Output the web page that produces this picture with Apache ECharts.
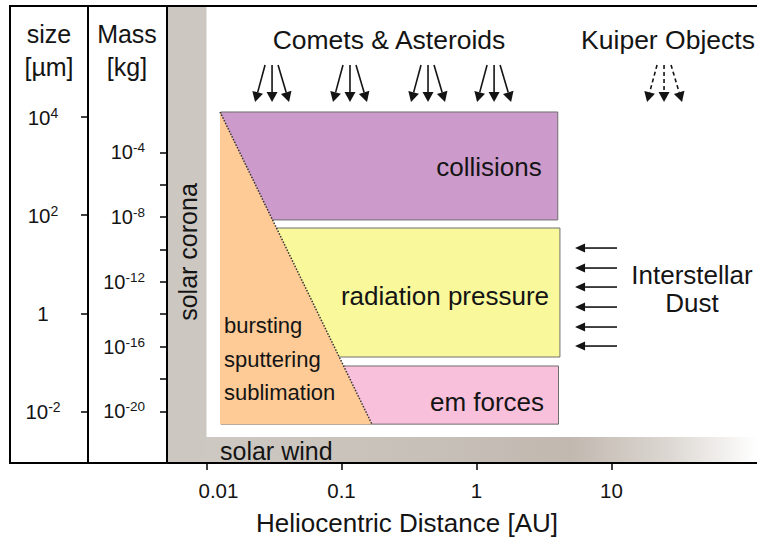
<!DOCTYPE html>
<html><head><meta charset="utf-8">
<script src="https://cdn.jsdelivr.net/npm/echarts@6/dist/echarts.min.js"></script>
<style>html,body{margin:0;padding:0;background:#fff}#c{width:757px;height:537px}</style>
</head><body><div id="c"></div>
<script>
// ---- axis ranges and ticks ----
const distRangeAU = [0.0051, 119.6];
const sizeRangeUm = [8.87e-4, 1.84e6];
const massRangeKg = [6.46e-24, 1.084e5];
const distTicksAU = [0.01, 0.1, 1, 10];
const distTickLabels = ['{o|0.01}', '0.1', '1', '10'];
const sizeTicksUm = [0.01, 1, 100, 10000];
const sizeTickLabels = ['10{s|-2}', '1', '10{s|2}', '10{s|4}'];
const massTicksKg = [1e-20, 1e-18, 1e-16, 1e-14, 1e-12, 1e-10, 1e-8, 1e-6, 1e-4];
const massLabelTicksKg = [1e-20, 1e-16, 1e-12, 1e-8, 1e-4];
const massTickLabels = ['10{s|-20}', '10{s|-16}', '10{s|-12}', '10{s|-8}', '10{s|-4}'];

// ---- process regions (distance in AU, size in µm) ----
const regionLabels = ['collisions', 'radiation pressure', 'em forces'];
const regionInnerAU = [0.0128, 0.0128, 0.0128];
const regionOuterAU = [4.0, 4.15, 4.05];
const regionMinSizeUm = [80, 0.1285, 0.0055];
const regionMaxSizeUm = [12700, 54.8, 0.0843];
const sublimationAU = [0.0126, 0.168];
const sublimationSizeUm = [0.0055, 12700];

// ---- dust sources ----
const cometSourceAU = [0.0306, 0.1156, 0.4375, 1.35];
const kuiperSourceAU = [24.5];
const infallTopUm = 1.153e5;
const infallBottomUm = 2.03e4;
const dustArrowSizesUm = [21.4, 8.37, 3.43, 1.34, 0.525, 0.215];
const dustArrowFromAU = 10.98;
const dustArrowToAU = 5.37;

// ---- styles ----
const regionColors = ['#CD9BCB', '#F9F99B', '#F9C0DC'];
const FONT = '"Liberation Sans", Arial, Helvetica, sans-serif';
const INK = '#141414';

function pick(v, ticks, labels) {
  for (let i = 0; i < ticks.length; i++) {
    if (Math.abs(Math.log10(v) - Math.log10(ticks[i])) < 1e-6) return labels[i];
  }
  return '';
}

function arrowEls(x1, y1, x2, y2, dashed, hl, hw) {
  const dx = x2 - x1, dy = y2 - y1, len = Math.hypot(dx, dy);
  const ux = dx / len, uy = dy / len;
  const bx = x2 - ux * hl, by = y2 - uy * hl, nx = -uy, ny = ux;
  return [
    {type: 'line', shape: {x1: x1, y1: y1, x2: bx, y2: by},
     style: {stroke: INK, lineWidth: 1.6, lineDash: dashed ? [4, 3] : null}},
    {type: 'polygon', shape: {points: [[x2, y2], [bx + nx * hw, by + ny * hw], [bx - nx * hw, by - ny * hw]]},
     style: {fill: INK}}
  ];
}

const regionData = regionLabels.map((n, i) => [regionInnerAU[i], regionMinSizeUm[i], regionOuterAU[i], regionMaxSizeUm[i], i]);
const infallData = cometSourceAU.map(a => [a, infallTopUm, infallBottomUm, 0])
  .concat(kuiperSourceAU.map(a => [a, infallTopUm, infallBottomUm, 1]));
const dustData = dustArrowSizesUm.map(s => [dustArrowFromAU, s, dustArrowToAU]);

const chart = echarts.init(document.getElementById('c'), null, {renderer: 'svg'});

const txt = (text, x, y, size, align, extra) => Object.assign({
  type: 'text', x: x, y: y, z: 100,
  style: {text: text, font: size + 'px ' + FONT, fill: INK, align: align || 'center', verticalAlign: 'middle'}
}, extra || {});

chart.setOption({
  animation: false,
  backgroundColor: '#fff',
  grid: {left: 167, right: 0, top: 6, bottom: 74, containLabel: false},
  xAxis: {
    type: 'log', logBase: 10, min: distRangeAU[0], max: distRangeAU[1], z: 20,
    splitLine: {show: false},
    axisLine: {show: true, lineStyle: {color: '#000', width: 2}},
    axisTick: {show: true, customValues: distTicksAU, length: 7, lineStyle: {color: '#000', width: 1.5}},
    minorTick: {show: false},
    axisLabel: {customValues: distTicksAU, margin: 17, color: INK, fontFamily: FONT, fontSize: 20.5,
      formatter: v => pick(v, distTicksAU, distTickLabels),
      rich: {o: {fontSize: 20.5, fontFamily: FONT, color: INK, padding: [0, 0, 0, 24]}}}
  },
  yAxis: [
    {
      type: 'log', logBase: 10, min: sizeRangeUm[0], max: sizeRangeUm[1], position: 'left', offset: 79, z: 20,
      splitLine: {show: false},
      axisLine: {show: true, lineStyle: {color: '#000', width: 2}},
      axisTick: {show: true, customValues: sizeTicksUm, length: 7, lineStyle: {color: '#000', width: 1.5}},
      axisLabel: {customValues: sizeTicksUm, margin: 45, align: 'center', color: INK,
        formatter: v => pick(v, sizeTicksUm, sizeTickLabels),
        rich: {s: {fontSize: 14, fontFamily: FONT, color: INK, verticalAlign: 'top', padding: [0, 0, 9, 0]}},
        fontSize: 20.5, fontFamily: FONT}
    },
    {
      type: 'log', logBase: 10, min: massRangeKg[0], max: massRangeKg[1], position: 'left', offset: 0, z: 20,
      splitLine: {show: false},
      axisLine: {show: true, lineStyle: {color: '#000', width: 2}},
      axisTick: {show: true, customValues: massTicksKg, length: 7, lineStyle: {color: '#000', width: 1.5}},
      axisLabel: {customValues: massLabelTicksKg, margin: 22, color: INK,
        formatter: v => pick(v, massLabelTicksKg, massTickLabels),
        rich: {s: {fontSize: 13.5, fontFamily: FONT, color: INK, verticalAlign: 'top', padding: [0, 0, 9, 0]}},
        fontSize: 20, fontFamily: FONT}
    }
  ],
  series: [
    {
      type: 'custom', name: 'regions', xAxisIndex: 0, yAxisIndex: 0, z: 2, clip: false,
      data: regionData,
      renderItem: (params, api) => {
        const p0 = api.coord([api.value(0), api.value(3)]);
        const p1 = api.coord([api.value(2), api.value(1)]);
        return {type: 'rect', shape: {x: p0[0], y: p0[1], width: p1[0] - p0[0], height: p1[1] - p0[1]},
          style: {fill: regionColors[api.value(4)], stroke: '#6E6E6E', lineWidth: 1}};
      }
    },
    {
      type: 'custom', name: 'sublimation', xAxisIndex: 0, yAxisIndex: 0, z: 3, clip: false,
      data: [[sublimationAU[0], sublimationSizeUm[0], sublimationAU[1], sublimationSizeUm[1]]],
      renderItem: (params, api) => {
        const apex = api.coord([api.value(0), api.value(3)]);
        const bl = api.coord([api.value(0), api.value(1)]);
        const br = api.coord([api.value(2), api.value(1)]);
        return {type: 'group', children: [
          {type: 'polygon', shape: {points: [apex, bl, br]}, style: {fill: '#FECB97'}},
          {type: 'line', shape: {x1: apex[0], y1: apex[1], x2: br[0], y2: br[1]},
           style: {stroke: '#333', lineWidth: 1.5, lineDash: [1.5, 1.5]}}
        ]};
      }
    },
    {
      type: 'custom', name: 'infall', xAxisIndex: 0, yAxisIndex: 0, z: 4, clip: false,
      data: infallData,
      renderItem: (params, api) => {
        const top = api.coord([api.value(0), api.value(1)]);
        const bot = api.coord([api.value(0), api.value(2)]);
        const dashed = api.value(3) === 1;
        const tops = dashed ? [-7, 0, 7] : [-7, 0, 6];
        const bots = dashed ? [-17, 0, 18] : [-17, 0, 17];
        let ch = [];
        for (let k = 0; k < 3; k++) {
          ch = ch.concat(arrowEls(top[0] + tops[k], top[1], bot[0] + bots[k], bot[1], dashed, 10, 5.5));
        }
        return {type: 'group', children: ch};
      }
    },
    {
      type: 'custom', name: 'interstellar', xAxisIndex: 0, yAxisIndex: 0, z: 4, clip: false,
      data: dustData,
      renderItem: (params, api) => {
        const a = api.coord([api.value(0), api.value(1)]);
        const b = api.coord([api.value(2), api.value(1)]);
        return {type: 'group', children: arrowEls(a[0], a[1], b[0], b[1], false, 10, 4.5)};
      }
    }
  ],
  graphic: [
    {type: 'rect', z: 0, shape: {x: 167, y: 6, width: 39.5, height: 457}, style: {fill: '#CCC7C1'}},
    {type: 'rect', z: 0, shape: {x: 206, y: 437, width: 551, height: 26},
     style: {fill: {type: 'linear', x: 0, y: 0, x2: 1, y2: 0, colorStops: [
       {offset: 0, color: '#CDC8C2'}, {offset: 0.45, color: '#C6BFB7'}, {offset: 0.66, color: '#C1B8AF'},
       {offset: 0.84, color: '#DCD7D2'}, {offset: 1, color: '#FFFFFF'}]}}},
    {type: 'polyline', z: 50, shape: {points: [[757, 6], [10, 6], [10, 463], [757, 463]]},
     style: {stroke: '#000', lineWidth: 2, fill: null}},
    txt('size', 49, 34, 25), txt('[µm]', 49, 67, 25),
    txt('Mass', 127, 34, 25), txt('[kg]', 127, 67, 25),
    txt('Comets & Asteroids', 389, 40, 26.5), txt('Kuiper Objects', 668, 40, 26.5),
    txt('collisions', 489, 167, 26), txt('radiation pressure', 445, 296, 26), txt('em forces', 487, 402, 26),
    txt('bursting', 224, 325, 22, 'left'), txt('sputtering', 224, 359, 22, 'left'), txt('sublimation', 224, 392, 22, 'left'),
    txt('Interstellar', 692, 275, 26), txt('Dust', 692, 303, 26),
    txt('solar corona', 188, 252, 25, 'center', {rotation: Math.PI / 2}),
    txt('solar wind', 220, 451, 25, 'left'),
    txt('Heliocentric Distance [AU]', 407, 523, 26)
  ]
});
</script></body></html>
